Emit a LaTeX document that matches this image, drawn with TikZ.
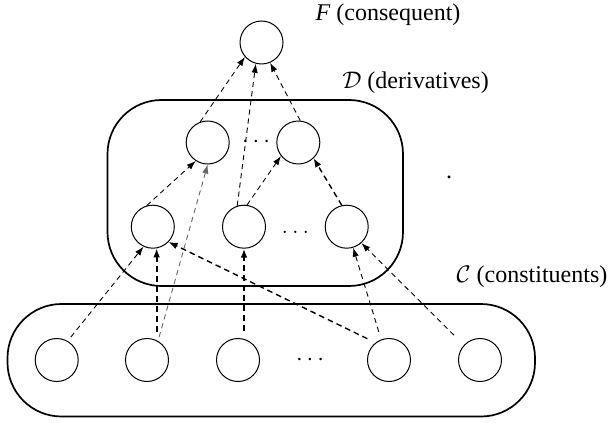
\documentclass[tikz,border=0pt]{standalone}
\usepackage{fontspec}
\setmainfont{Liberation Serif}
\usetikzlibrary{arrows.meta,calc}

\tikzset{
  vert/.style={circle, draw, line width=0.5pt, minimum size=21.5pt, inner sep=0pt},
  grp/.style={draw, line width=0.85pt, rounded corners=27pt},
  lbl/.style={font=\fontsize{12}{14}\selectfont, inner sep=0pt},
  dotsym/.style={font=\fontsize{12}{14}\selectfont, inner sep=0pt},
  link/.style={-{Latex[length=4.5pt,width=3.2pt]}, line width=0.45pt, dash pattern=on 2.6pt off 2pt},
  faint link/.style={link, black!60},
  bold link/.style={-{Latex[length=4.5pt,width=3.4pt]}, line width=1.1pt, dash pattern=on 3pt off 2pt},
  mid link/.style={-{Latex[length=4.5pt,width=3.4pt]}, line width=0.7pt, dash pattern=on 2.8pt off 2pt},
}

\begin{document}
\begin{tikzpicture}[x=0.5pt, y=-0.5pt]
  \useasboundingbox (0,0) rectangle (608,422);

  % group outlines
  \draw[grp] (107.5,100) rectangle (403,286);
  \draw[grp] (7.5,304) rectangle (535,416.5);

  % consequent
  \node[vert] (F) at (261.5,42.5) {};

  % derivatives, upper row
  \node[vert] (DUL) at (207.7,142.5) {};
  \node[vert] (DUR) at (298.3,142.5) {};
  \node[dotsym] (dd1) at (256,142.5) {$\cdots$};

  % derivatives, lower row
  \node[vert] (A) at (152.8,226.7) {};
  \node[vert] (B) at (244,226.7) {};
  \node[vert] (C) at (346.7,226.7) {};
  \node[dotsym] (dd2) at (295.5,232.5) {$\ldots$};

  % constituents
  \node[vert] (C1) at (56.7,360) {};
  \node[vert] (C2) at (147,360) {};
  \node[vert] (C3) at (238,360) {};
  \node[vert] (C4) at (389,360) {};
  \node[vert] (C5) at (480,360) {};
  \node[dotsym] (dd3) at (310,360) {$\cdots$};

  % labels
  \node[lbl] (lF) at (388,15) {\textit{F} (consequent)};
  \node[lbl] (lD) at (415.5,83) {$\mathcal{D}$ (derivatives)};
  \node[lbl] (lC) at (532,277) {$\mathcal{C}$ (constituents)};
  \node[lbl] (stray) at (449,177) {.};

  % derivatives -> consequent
  \draw[link] (DUL.110) -- (F.221);
  \draw[link] (B.108) -- (F.255);
  \draw[link] (DUR.85) -- (F.293);

  % lower derivatives -> upper derivatives
  \draw[link] (A.106) -- (DUL.237);
  \draw[link] (B.82) -- (DUR.218);
  \draw[mid link] (C.103) -- (DUR.314);

  % constituents -> derivatives
  \draw[faint link, shorten <=2pt] (C2.60) -- (DUL.south);
  \draw[link, shorten <=2.5pt] (C1.60) -- (A.245);
  \draw[bold link, shorten <=3pt] (C2.north -| A.-80) -- (A.-80);
  \draw[bold link, shorten <=3.5pt] (C3.north -| B.south) -- (B.south);
  \draw[mid link, shorten <=4.5pt] (C4.128) -- (A.316);
  \draw[link, shorten <=4pt] (C4.111) -- (C.287);
  \draw[link, shorten <=7pt] (C5.137) -- (C.312);
\end{tikzpicture}
\end{document}
